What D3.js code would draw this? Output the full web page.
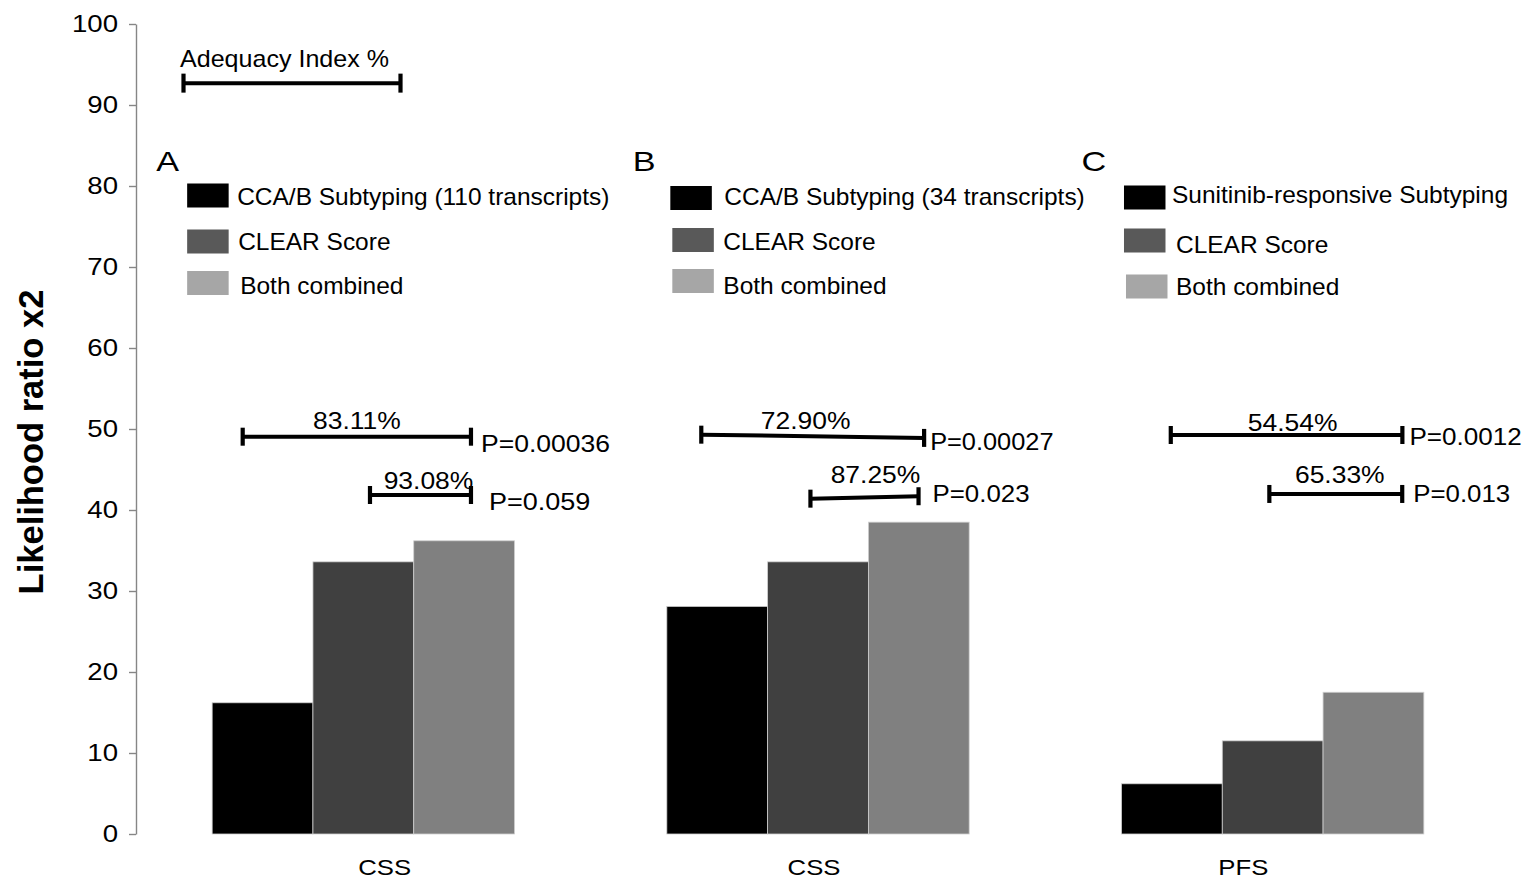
<!DOCTYPE html>
<html>
<head>
<meta charset="utf-8">
<script src="https://cdn.jsdelivr.net/npm/d3@7"></script>
<style>
  html, body { margin: 0; padding: 0; background: #fff; }
  svg { display: block; }
  text { font-family: "Liberation Sans", Arial, Helvetica, sans-serif; fill: #000; }
</style>
</head>
<body>
<svg id="chart" width="1533" height="882"></svg>
<script>
// ---- data ----
const panels = ["A", "B", "C"];
const outcomes = ["CSS", "CSS", "PFS"];
const seriesKeys = ["subtyping", "clear", "combined"];
const legendNames = [
  ["CCA/B Subtyping (110 transcripts)", "CLEAR Score", "Both combined"],
  ["CCA/B Subtyping (34 transcripts)", "CLEAR Score", "Both combined"],
  ["Sunitinib-responsive Subtyping", "CLEAR Score", "Both combined"]
];
// likelihood ratio chi-square per panel
const subtypingLR = [16.2, 28.1, 6.2];
const clearLR = [33.6, 33.6, 11.5];
const combinedLR = [36.2, 38.5, 17.5];
// adequacy index: subtyping vs combined (upper) and CLEAR vs combined (lower)
const adequacyUpper = ["83.11%", "72.90%", "54.54%"];
const pUpper = ["P=0.00036", "P=0.00027", "P=0.0012"];
const adequacyLower = ["93.08%", "87.25%", "65.33%"];
const pLower = ["P=0.059", "P=0.023", "P=0.013"];
const yTicks = [0, 10, 20, 30, 40, 50, 60, 70, 80, 90, 100];
const yTitle = "Likelihood ratio x2";
const keyTitle = "Adequacy Index %";

// ---- setup ----
const svg = d3.select("#chart");

const y = d3.scaleLinear().domain([0, 100]).range([834, 24]);
const x = d3.scaleBand().domain(panels).range([136, 1500]).paddingInner(0.335).paddingOuter(0.1675);
const xs = d3.scaleBand().domain(seriesKeys).range([0, x.bandwidth()]);
const xLabel = d3.scalePoint().domain(panels).range([170, 1458]).padding(0.5);

const barColors = { subtyping: "#000000", clear: "#404040", combined: "#808080" };
const keyColors = { subtyping: "#000000", clear: "#595959", combined: "#a6a6a6" };

// text with a horizontal stretch factor
function txt(g, xPos, yPos, str, o) {
  o = o || {};
  return g.append("text")
    .attr("transform", `translate(${xPos},${yPos}) scale(${o.sx || 1},1)`)
    .attr("text-anchor", o.anchor || "start")
    .attr("font-size", o.size || 24)
    .attr("font-weight", o.weight || "normal")
    .text(str);
}

// ---- y axis ----
const axisG = svg.append("g").attr("transform", "translate(136,0)")
  .call(d3.axisLeft(y).tickValues(yTicks).tickSize(7).tickSizeOuter(0).tickFormat(""));
axisG.select(".domain").attr("stroke", "#868686").attr("stroke-width", 1.4);
axisG.selectAll(".tick line").attr("stroke", "#868686").attr("stroke-width", 1.4);
yTicks.forEach(v => txt(svg, 118, y(v) + 8.3, String(v), { size: 23, sx: 1.2, anchor: "end" }));

txt(svg, 0, 0, yTitle, { size: 34.5, weight: "bold", anchor: "middle" })
  .attr("transform", "translate(43,442) rotate(-90)");

// ---- bars ----
const rows = panels.map((p, i) => ({
  panel: p,
  values: { subtyping: subtypingLR[i], clear: clearLR[i], combined: combinedLR[i] }
}));
const grp = svg.append("g").selectAll("g").data(rows).join("g")
  .attr("transform", d => `translate(${x(d.panel)},0)`);
grp.selectAll("rect").data(d => seriesKeys.map(k => ({ key: k, value: d.values[k] })))
  .join("rect")
  .attr("x", d => xs(d.key))
  .attr("width", xs.bandwidth())
  .attr("y", d => y(d.value))
  .attr("height", d => y(0) - y(d.value))
  .attr("fill", d => barColors[d.key])
  .attr("stroke", "#cfcfcf")
  .attr("stroke-width", 0.8);

// category labels
panels.forEach((p, i) => txt(svg, xLabel(p), 875, outcomes[i], { size: 22, sx: 1.17, anchor: "middle" }));

// ---- adequacy index key ----
function bracket(g, x0, y0, x1, y1, capH) {
  g.append("line").attr("x1", x0).attr("y1", y0).attr("x2", x1).attr("y2", y1)
    .attr("stroke", "#000").attr("stroke-width", 4);
  [[x0, y0], [x1, y1]].forEach(([cx, cy]) =>
    g.append("line").attr("x1", cx).attr("x2", cx)
      .attr("y1", cy - capH / 2).attr("y2", cy + capH / 2)
      .attr("stroke", "#000").attr("stroke-width", 4.2));
}
const keyG = svg.append("g");
txt(keyG, 180, 67, keyTitle, { size: 23, sx: 1.09 });
bracket(keyG, 183.5, y(92.7), 400.5, y(92.7), 19);

// ---- panel letters and legends ----
// letter: offset of the panel letter from the band start; sw: swatch column offset;
// tx: text offset from the swatch; swx: per-row swatch nudge
const panelLayout = [
  { letter: -55, sw: -25, tx: [50, 51, 53], swx: [0, 0, 0], rowY: [183.5, 229.5, 271], base: [205, 250, 294] },
  { letter: -33, sw: 3.5, tx: [54, 53, 53], swx: [0, 2, 2], rowY: [186, 228, 269], base: [205, 250, 294] },
  { letter: -39, sw: 2.5, tx: [48, 52, 52], swx: [0, 0, 2], rowY: [185.5, 228.5, 274.5], base: [203, 252.5, 295] }
];
panels.forEach((p, i) => {
  const L = panelLayout[i];
  const x0 = x(p);
  const g = svg.append("g");
  txt(g, x0 + L.letter - 1, 171, p, { size: 28.5, sx: 1.2 });
  seriesKeys.forEach((k, j) => {
    g.append("rect")
      .attr("x", x0 + L.sw + L.swx[j]).attr("y", L.rowY[j])
      .attr("width", 41.5).attr("height", 24)
      .attr("fill", keyColors[k]);
    txt(g, x0 + L.sw + L.tx[j], L.base[j], legendNames[i][j], { size: 24, sx: 1.02 });
  });
});

// ---- adequacy brackets ----
const bracketLayout = [
  { upper: { f0: 0.101, f1: 0.856, v0: 49.05, v1: 49.05, lx: 0, ly: -8, px: 12, py: 15, psx: 1.13 },
    lower: { f0: 0.522, f1: 0.856, v0: 41.85, v1: 41.85, lx: 8, ly: -6, px: 20, py: 15, psx: 1.15 } },
  { upper: { f0: 0.114, f1: 0.851, v0: 49.3, v1: 48.9, lx: -7, ly: -7, px: 8, py: 12, psx: 1.08 },
    lower: { f0: 0.475, f1: 0.8325, v0: 41.4, v1: 41.7, lx: 11, ly: -14, px: 16, py: 6, psx: 1.1 } },
  { upper: { f0: 0.163, f1: 0.929, v0: 49.26, v1: 49.26, lx: 6, ly: -4, px: 9, py: 10, psx: 1.11 },
    lower: { f0: 0.489, f1: 0.9285, v0: 41.98, v1: 41.98, lx: 4, ly: -11, px: 13, py: 8, psx: 1.1 } }
];
panels.forEach((p, i) => {
  const g = svg.append("g");
  const bw = x.bandwidth();
  [["upper", adequacyUpper[i], pUpper[i]], ["lower", adequacyLower[i], pLower[i]]].forEach(([which, pct, pv]) => {
    const b = bracketLayout[i][which];
    const x0 = x(p) + b.f0 * bw, x1 = x(p) + b.f1 * bw;
    const y0 = y(b.v0), y1 = y(b.v1);
    bracket(g, x0, y0, x1, y1, 18);
    txt(g, (x0 + x1) / 2 + b.lx, (y0 + y1) / 2 + b.ly, pct, { size: 24.5, sx: 1.08, anchor: "middle" });
    txt(g, x1 + b.px - 2, y1 + b.py, pv, { size: 23.5, sx: b.psx });
  });
});
</script>
</body>
</html>
